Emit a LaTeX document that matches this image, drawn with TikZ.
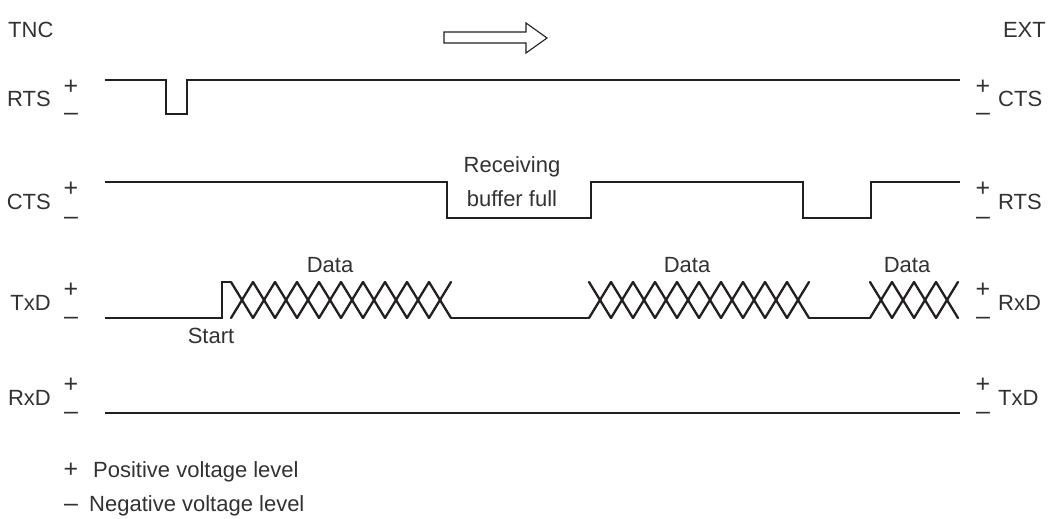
\documentclass[tikz,border=0pt]{standalone}
\usepackage{fontspec}
\setmainfont{Liberation Sans}
\definecolor{ink}{RGB}{35,31,32}
\definecolor{txt}{RGB}{50,50,50}
\begin{document}
\begin{tikzpicture}[x=1pt,y=-1pt,
  lbl/.style={inner sep=0pt,text=txt,font=\fontsize{22}{34}\selectfont},
  pm/.style={inner sep=0pt,text=txt,font=\fontsize{25}{30}\selectfont},
  sig/.style={draw=ink,line width=2.3pt,line join=miter},
  hollow/.style={draw=ink,line width=1.1pt,fill=white}]
\useasboundingbox (0,0) rectangle (1055,519);
% header
\node[lbl,anchor=west] (tnc) at (8,30) {TNC};
\node[lbl,anchor=east] (ext) at (1046,30) {EXT};
\draw[hollow] (444,32) -- (526,32) -- (526,23) -- (547,38) -- (526,53) -- (526,43) -- (444,43) -- cycle;
% row labels
\foreach \nm/\rn/\yh/\yl [count=\i] in {RTS/CTS/80/114, CTS/RTS/182/218, TxD/RxD/283/318, RxD/TxD/378/413}{
  \node[lbl,anchor=east] (ln\i) at (51,{(\yh+\yl)/2+2}) {\nm};
  \node[pm] (lp\i) at (71,\yh+7) {+};
  \node[pm] (lm\i) at (71,\yl+3) {–};
  \node[pm] (rp\i) at (983,\yh+7) {+};
  \node[pm] (rm\i) at (983,\yl+3) {–};
  \node[lbl,anchor=west] (rn\i) at (998,{(\yh+\yl)/2+2}) {\rn};
}
% RTS
\draw[sig] (105,80) -- (166,80) -- (166,114) -- (187,114) -- (187,80) -- (960,80);
% CTS
\draw[sig] (105,182) -- (447,182) -- (447,218) -- (591,218) -- (591,182) -- (803,182) -- (803,218) -- (871,218) -- (871,182) -- (960,182);
\node[lbl,align=center] (rbf) at (512,182) {Receiving\\buffer full};
% TxD
\draw[sig] (105,318) -- (222,318) -- (222,282) -- (231,282);
\draw[sig] (451,318) -- (589,318);
\draw[sig] (809,318) -- (870,318);
\foreach \a/\n in {231/10, 589/10, 870/4}{
  \pgfmathsetmacro{\s}{22}
  \foreach \k in {1,...,\n}{
    \pgfmathsetmacro{\xa}{\a+(\k-1)*\s}
    \pgfmathsetmacro{\xb}{\a+\k*\s}
    \pgfmathtruncatemacro{\odd}{mod(\k,2)}
    \ifnum\odd=1
      \draw[sig,line cap=round] (\xa,282) -- (\xb,318);
      \draw[sig,line cap=round] (\xa,318) -- (\xb,282);
    \else
      \draw[sig,line cap=round] (\xa,318) -- (\xb,282);
      \draw[sig,line cap=round] (\xa,282) -- (\xb,318);
    \fi
  }
}
\node[lbl] (d1) at (330,265) {Data};
\node[lbl] (d2) at (687,265) {Data};
\node[lbl] (d3) at (907,265) {Data};
\node[lbl] (st) at (211,336) {Start};
% RxD
\draw[sig] (105,413) -- (960,413);
% legend
\node[pm,anchor=base] (pl) at (71,477) {+};
\node[lbl,anchor=base west] (plt) at (93,477) {Positive voltage level};
\node[pm,anchor=base] (ml) at (71,511) {–};
\node[lbl,anchor=base west] (mlt) at (89,511) {Negative voltage level};
\end{tikzpicture}
\end{document}
